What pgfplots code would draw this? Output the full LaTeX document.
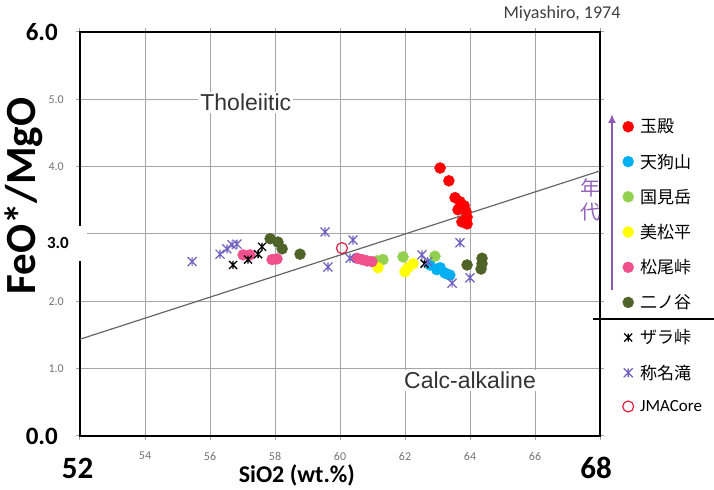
\documentclass[border=0pt]{standalone}
\usepackage{fontspec}
\setmainfont{Carlito}
\newfontfamily\jp{Noto Sans CJK JP}
\newfontfamily\arial{Liberation Sans}
\usepackage{pgfplots}
\pgfplotsset{compat=1.18}
\usetikzlibrary{arrows.meta}

\definecolor{gyokuden}{HTML}{FF0000}
\definecolor{tengu}{HTML}{00B0F0}
\definecolor{kunimi}{HTML}{92D050}
\definecolor{mimatsu}{HTML}{FFFF00}
\definecolor{matsuo}{HTML}{F0508C}
\definecolor{ninotani}{HTML}{4F6228}
\definecolor{shomyo}{HTML}{7060C0}
\definecolor{jma}{HTML}{E02040}
\definecolor{nendai}{HTML}{7030A0}
\definecolor{gridc}{HTML}{A6A6A6}

\newcommand{\fs}[1]{\fontsize{#1bp}{#1bp}\selectfont}

% Excel-like star: x with a vertical bar
\pgfdeclareplotmark{xstar}{%
  \pgfpathmoveto{\pgfqpoint{-\pgfplotmarksize}{-\pgfplotmarksize}}%
  \pgfpathlineto{\pgfqpoint{\pgfplotmarksize}{\pgfplotmarksize}}%
  \pgfpathmoveto{\pgfqpoint{-\pgfplotmarksize}{\pgfplotmarksize}}%
  \pgfpathlineto{\pgfqpoint{\pgfplotmarksize}{-\pgfplotmarksize}}%
  \pgfpathmoveto{\pgfqpoint{0pt}{-\pgfplotmarksize}}%
  \pgfpathlineto{\pgfqpoint{0pt}{\pgfplotmarksize}}%
  \pgfusepathqstroke}

\begin{document}
\begin{tikzpicture}[x=1bp,y=1bp]
\begin{axis}[
  scale only axis, width=520bp, height=404bp,
  xmin=52, xmax=68, ymin=0, ymax=6,
  xtick={52,54,...,68}, ytick={0,1,...,6},
  xticklabels={{\color{black}\bfseries\fs{31}\rule{0pt}{26bp}52\kern5bp},54,56,58,60,62,64,66,
    {\color{black}\bfseries\fs{31}\rule{0pt}{26bp}68\kern8bp}},
  yticklabels={{\color{black}\bfseries\fs{25}0.0\kern6bp},1.0,2.0,{},4.0,5.0,
    {\color{black}\bfseries\fs{25}6.0\kern6bp}},
  xticklabel style={anchor=north, inner sep=0pt, yshift=-12bp, font=\fs{12}, text=gray!90!black},
  yticklabel style={anchor=east, inner sep=0pt, xshift=-12bp, font=\fs{12}, text=gray!90!black},
  grid=major, grid style={color=gridc, line width=1bp},
  axis line style={line width=1.6bp, black},
  tick align=outside, major tick length=4bp, tick style={color=gridc, line width=1bp},
  xlabel={SiO2 (wt.\%)}, ylabel={FeO*/MgO},
  xlabel style={at={(axis description cs:0.417,-0.098)}, anchor=center, font=\bfseries\fs{24}},
  ylabel style={at={(axis description cs:-0.108,0.594)}, anchor=center, font=\bfseries\fs{43}},
  legend style={at={(1,1)}, anchor=north west, xshift=22.5bp, yshift=-86bp,
    draw=none, fill=none, inner sep=0pt, row sep=17.5bp, font=\fs{17},
    nodes={inner ysep=1bp, inner xsep=6.5bp}},
  legend cell align=left,
  clip=false,
]
% Miyashiro (1974) boundary
\addplot[forget plot, color=gray!80!black, line width=1.2bp] coordinates {(52,1.437)(68,3.937)};

\node[fill=white, inner sep=2bp, font=\arial\fs{23}, text=black!80] at (axis cs:57.1,4.95) {Tholeiitic};
\node[fill=white, inner sep=2bp, font=\arial\fs{23}, text=black!80] at (axis cs:64.0,0.83) {Calc-alkaline};

\addplot[only marks, mark=*, mark size=5.5bp, color=gyokuden] coordinates {
  (63.08,3.98)(63.35,3.79)(63.54,3.54)(63.69,3.48)(63.82,3.42)
  (63.63,3.36)(63.88,3.33)(63.91,3.25)(63.75,3.18)(63.91,3.15)};
\addlegendentry{\jp 玉殿}
\addplot[only marks, mark=*, mark size=5.5bp, color=tengu] coordinates {
  (62.77,2.54)(62.98,2.47)(63.23,2.42)(63.38,2.39)(63.08,2.50)};
\addlegendentry{\jp 天狗山}
\addplot[only marks, mark=*, mark size=5.5bp, color=kunimi] coordinates {
  (61.32,2.62)(61.14,2.60)(61.94,2.66)(62.92,2.67)};
\addlegendentry{\jp 国見岳}
\addplot[only marks, mark=*, mark size=5.5bp, color=mimatsu] coordinates {
  (61.17,2.50)(62.09,2.50)(62.25,2.56)(62.00,2.44)};
\addlegendentry{\jp 美松平}
\addplot[only marks, mark=*, mark size=5.5bp, color=matsuo] coordinates {
  (57.02,2.69)(57.23,2.69)(57.91,2.62)(58.06,2.63)
  (60.52,2.64)(60.68,2.62)(60.83,2.60)(60.98,2.59)};
\addlegendentry{\jp 松尾峠}
\addplot[only marks, mark=*, mark size=5.5bp, color=ninotani] coordinates {
  (57.85,2.93)(58.09,2.88)(58.22,2.78)(58.77,2.70)
  (63.91,2.54)(64.37,2.64)(64.37,2.56)(64.34,2.48)};
\addlegendentry{\jp 二ノ谷}
\addplot[only marks, mark=xstar, mark size=4bp, line width=1.3bp, color=black] coordinates {
  (56.71,2.54)(57.48,2.70)(57.60,2.81)(57.17,2.62)(62.60,2.56)};
\addlegendentry{\jp ザラ峠}
\addplot[only marks, mark=xstar, mark size=4.5bp, line width=1.2bp, color=shomyo] coordinates {
  (56.31,2.70)(56.68,2.84)(56.83,2.85)(56.52,2.78)(55.45,2.59)
  (59.54,3.03)(59.63,2.51)(60.40,2.91)(60.31,2.64)(62.52,2.69)
  (63.69,2.87)(63.45,2.27)(64.00,2.35)(62.70,2.59)};
\addlegendentry{\jp 称名滝}
\addplot[only marks, mark=o, mark size=5.5bp, line width=1.2bp, color=jma] coordinates {
  (60.06,2.79)};
\addlegendentry{JMACore}
\end{axis}

\begin{scope}[shift={(-80,-54)}]
% gap in the left axis around the 3.0 label
\fill[white] (70,229) rectangle (87,264);
\node[anchor=east, inner sep=0pt, font=\bfseries\fs{17}] at (69,247) {3.0};

\node[font=\fs{18}, text=black!75] at (562,476) {Miyashiro, 1974};

\draw[nendai!80, line width=2.5bp, -{Latex[length=9bp,width=8bp]}] (612,200) -- (612,376);
\node[font=\jp\fs{20}, text=nendai!75] at (590,302) {年};
\node[font=\jp\fs{20}, text=nendai!75] at (590,278) {代};

\draw[black, line width=1.6bp] (593,171) -- (714,171);
\end{scope}

\pgfresetboundingbox
\path[use as bounding box] (-80,-54) rectangle (634,436);
\end{tikzpicture}
\end{document}
